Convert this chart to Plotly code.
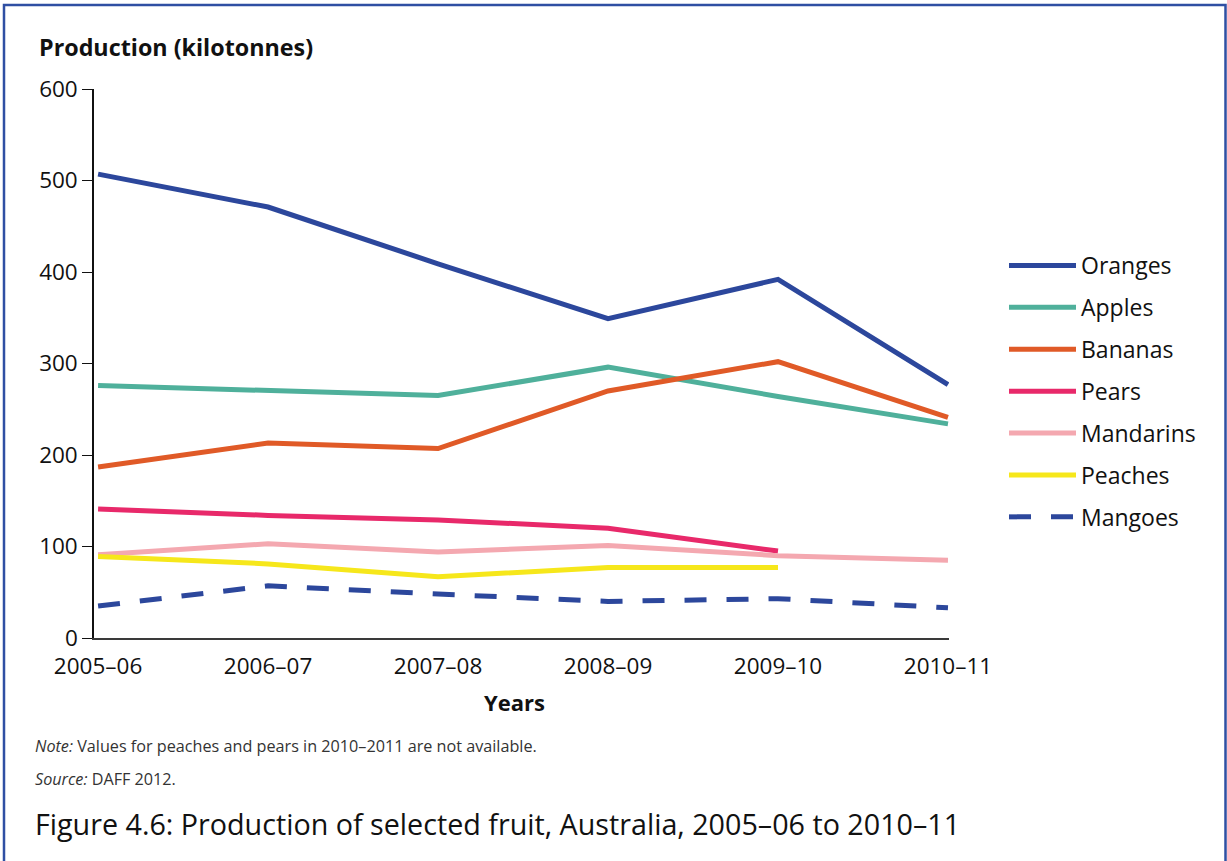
import plotly.graph_objects as go

years = ["2005–06", "2006–07", "2007–08", "2008–09", "2009–10", "2010–11"]
oranges = [507, 471, 409, 349, 392, 277]
apples = [276, 271, 265, 296, 264, 234]
bananas = [187, 213, 207, 270, 302, 241]
pears = [141, 134, 129, 120, 95, None]
mandarins = [91, 103, 94, 101, 90, 85]
peaches = [89, 81, 67, 77, 77, None]
mangoes = [35, 57, 48, 40, 43, 33]

series = [
    ("Oranges", oranges, "#2c479c", "solid"),
    ("Apples", apples, "#4fb09b", "solid"),
    ("Bananas", bananas, "#e05a27", "solid"),
    ("Pears", pears, "#e8296a", "solid"),
    ("Mandarins", mandarins, "#f4a8b0", "solid"),
    ("Peaches", peaches, "#f6e71b", "solid"),
    ("Mangoes", mangoes, "#2c479c", "22px,20px"),
]

W, H = 1227, 861
ML, MR, MT, MB = 94, 278, 89, 223
FONT = "Open Sans"

fig = go.Figure()
for name, vals, color, dash in series:
    fig.add_trace(go.Scatter(
        x=list(range(len(years))), y=vals, name=name, mode="lines",
        line=dict(color=color, width=5, dash=dash),
        legendgroup=name, connectgaps=False,
    ))

pw = W - ML - MR
ph = H - MT - MB

def px_x(p):
    return (p - ML) / pw

def px_y(p):
    return (H - MB - p) / ph

fig.update_layout(
    width=W, height=H,
    margin=dict(l=ML, r=MR, t=MT, b=MB, pad=0),
    paper_bgcolor="white", plot_bgcolor="white",
    font=dict(family=FONT, size=22, color="#111"),
    showlegend=True,
    legend=dict(
        x=px_x(1004), y=px_y(244), xanchor="left", yanchor="top",
        font=dict(family=FONT, size=23, color="#111"),
        traceorder="grouped", tracegroupgap=9, itemwidth=67,
        bgcolor="rgba(0,0,0,0)",
    ),
    xaxis=dict(
        tickmode="array", tickvals=list(range(len(years))), ticktext=years,
        range=[-0.024, 5.006], showgrid=False, zeroline=False,
        showline=True, linecolor="#3a3a3a", linewidth=2,
        ticks="", ticklabelstandoff=7,
        tickfont=dict(family=FONT, size=22.5, color="#111"),
    ),
    yaxis=dict(
        range=[0, 600], tickvals=[0, 100, 200, 300, 400, 500, 600],
        showgrid=False, zeroline=False,
        showline=True, linecolor="#111", linewidth=1.5,
        ticks="outside", ticklen=10, tickwidth=1.2, tickcolor="#111",
        ticklabelstandoff=0,
        tickfont=dict(family=FONT, size=22.5, color="#111"),
    ),
)

ann = [
    dict(text="<b>Production (kilotonnes)</b>", x=px_x(37), y=px_y(47),
         xanchor="left", yanchor="middle", font=dict(size=23.3)),
    dict(text="<b>Years</b>", x=px_x(514), y=px_y(702),
         xanchor="center", yanchor="middle", font=dict(size=22)),
    dict(text="<i>Note:</i> Values for peaches and pears in 2010–2011 are not available.",
         x=px_x(33), y=px_y(746), xanchor="left", yanchor="middle",
         font=dict(size=16.2, color="#333")),
    dict(text="<i>Source:</i> DAFF 2012.",
         x=px_x(33), y=px_y(779), xanchor="left", yanchor="middle",
         font=dict(size=16.2, color="#333")),
    dict(text="Figure 4.6: Production of selected fruit, Australia, 2005–06 to 2010–11",
         x=px_x(33), y=px_y(823), xanchor="left", yanchor="middle",
         font=dict(size=28.7, color="#111")),
]
for a in ann:
    a.update(xref="paper", yref="paper", showarrow=False)
    fig.add_annotation(**a)

fig.add_shape(type="rect", xref="paper", yref="paper",
              x0=px_x(4), x1=px_x(1225.5), y0=px_y(5), y1=px_y(880),
              line=dict(color="#2f4fa3", width=2.5), fillcolor="rgba(0,0,0,0)",
              layer="below")

fig.write_html("out.html", config={"displayModeBar": False},
               post_script="document.body.style.margin='0';")
